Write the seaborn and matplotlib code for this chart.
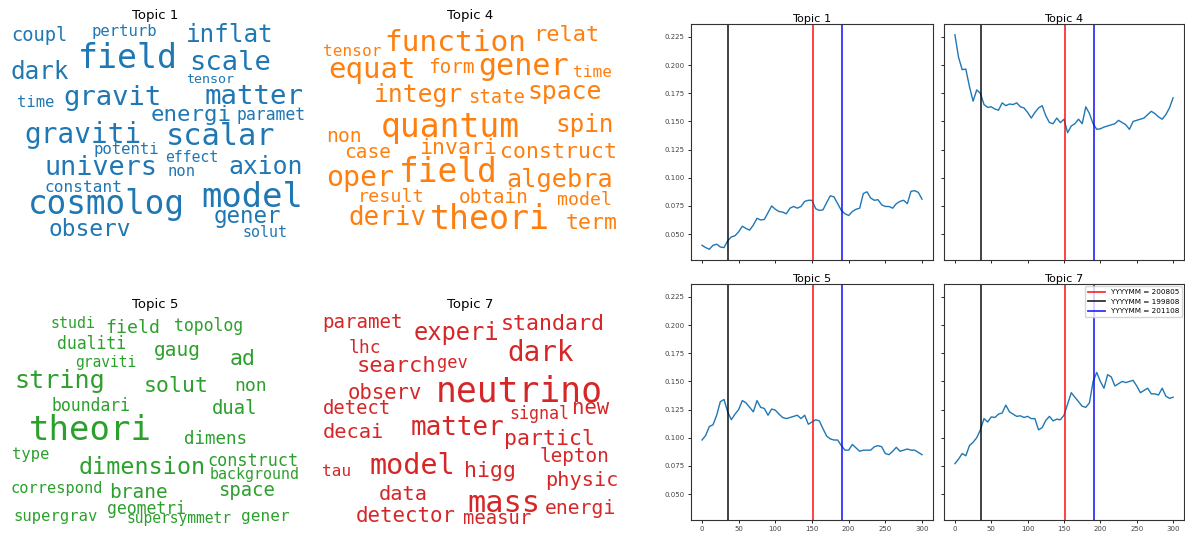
import pandas as pd
import seaborn as sns
import matplotlib.pyplot as plt

# ---- topic share over time (month index, every 5th month) ----
months = list(range(0, 301, 5))

topic1_share = [0.040, 0.038, 0.0365, 0.040, 0.041, 0.0385, 0.038, 0.044, 0.0475, 0.0485,
                0.052, 0.057, 0.055, 0.0535, 0.058, 0.064, 0.0625, 0.063, 0.069, 0.075,
                0.072, 0.070, 0.0695, 0.068, 0.073, 0.0745, 0.073, 0.0745, 0.079, 0.080,
                0.080, 0.0725, 0.071, 0.0715, 0.078, 0.084, 0.083, 0.077, 0.071, 0.068,
                0.0665, 0.070, 0.072, 0.073, 0.086, 0.0875, 0.082, 0.080, 0.0805, 0.076,
                0.0745, 0.0745, 0.073, 0.077, 0.079, 0.080, 0.077, 0.088, 0.0885, 0.087,
                0.081]

topic4_share = [0.227, 0.207, 0.196, 0.1965, 0.181, 0.168, 0.178, 0.175, 0.165, 0.1625,
                0.163, 0.161, 0.160, 0.1665, 0.164, 0.1655, 0.165, 0.1665, 0.163, 0.162,
                0.158, 0.153, 0.158, 0.162, 0.164, 0.155, 0.149, 0.148, 0.153, 0.149,
                0.152, 0.140, 0.146, 0.148, 0.152, 0.148, 0.163, 0.157, 0.148, 0.143,
                0.1435, 0.145, 0.146, 0.147, 0.148, 0.151, 0.149, 0.147, 0.143, 0.150,
                0.151, 0.152, 0.153, 0.156, 0.159, 0.157, 0.154, 0.152, 0.156, 0.162,
                0.171]

topic5_share = [0.098, 0.102, 0.110, 0.1115, 0.120, 0.132, 0.134, 0.123, 0.116, 0.121,
                0.125, 0.133, 0.131, 0.127, 0.123, 0.133, 0.127, 0.126, 0.120, 0.1255,
                0.1245, 0.121, 0.118, 0.117, 0.118, 0.119, 0.120, 0.117, 0.120, 0.112,
                0.114, 0.116, 0.115, 0.108, 0.1015, 0.099, 0.098, 0.098, 0.093, 0.089,
                0.089, 0.094, 0.091, 0.088, 0.089, 0.089, 0.089, 0.092, 0.093, 0.092,
                0.086, 0.085, 0.088, 0.0915, 0.088, 0.089, 0.090, 0.089, 0.089, 0.087,
                0.085]

topic7_share = [0.077, 0.081, 0.086, 0.084, 0.093, 0.096, 0.100, 0.107, 0.117, 0.114,
                0.1185, 0.118, 0.121, 0.122, 0.129, 0.123, 0.121, 0.119, 0.1195, 0.118,
                0.119, 0.117, 0.117, 0.107, 0.109, 0.1155, 0.119, 0.115, 0.1165, 0.116,
                0.120, 0.130, 0.140, 0.136, 0.132, 0.128, 0.127, 0.131, 0.150, 0.158,
                0.150, 0.144, 0.156, 0.154, 0.146, 0.148, 0.150, 0.149, 0.150, 0.151,
                0.146, 0.140, 0.142, 0.144, 0.139, 0.139, 0.138, 0.144, 0.137, 0.135,
                0.136]

# reference months (index) and their labels
event_labels = ["YYYYMM = 200805", "YYYYMM = 199808", "YYYYMM = 201108"]
event_months = [152, 36, 191]
event_colors = ["red", "black", "blue"]

# ---- word clouds: words and weights ----
t1_words = ["coupl", "perturb", "inflat", "field", "dark", "scale", "tensor", "gravit",
            "matter", "time", "energi", "paramet", "graviti", "scalar", "potenti", "effect",
            "univers", "non", "axion", "constant", "cosmolog", "model", "gener", "observ", "solut"]
t1_weights = [19.3, 16.1, 24.9, 34.2, 24.9, 27.9, 13.8, 28.0, 28.2, 15.9, 23.0, 17.0, 28.5,
              31.3, 16.1, 15.2, 27.7, 16.0, 25.5, 16.6, 33.6, 34.9, 23.2, 23.5, 15.5]

t4_words = ["function", "relat", "tensor", "equat", "form", "gener", "time", "integr", "state",
            "space", "quantum", "spin", "non", "case", "invari", "construct", "oper", "field",
            "algebra", "result", "obtain", "model", "deriv", "theori", "term"]
t4_weights = [30.3, 22.7, 16.6, 29.9, 19.9, 31.0, 16.6, 25.3, 19.4, 25.5, 34.0, 24.9, 20.3,
              20.0, 22.1, 22.1, 29.0, 33.8, 26.0, 18.9, 19.9, 18.8, 26.6, 34.2, 22.1]

t5_words = ["studi", "field", "topolog", "dualiti", "gaug", "ad", "graviti", "string", "solut",
            "non", "boundari", "dual", "theori", "dimens", "type", "dimension", "construct",
            "background", "correspond", "brane", "space", "supergrav", "geometri",
            "supersymmetr", "gener"]
t5_weights = [15.5, 18.8, 17.0, 17.0, 20.0, 22.1, 15.0, 25.8, 22.1, 18.5, 17.0, 19.4, 35.0,
              18.0, 15.9, 24.0, 17.2, 15.5, 15.8, 20.0, 19.4, 16.0, 17.0, 15.0, 16.6]

t7_words = ["paramet", "experi", "standard", "lhc", "dark", "search", "gev", "neutrino",
            "observ", "detect", "signal", "new", "matter", "decai", "particl", "lepton", "tau",
            "model", "higg", "physic", "data", "mass", "energi", "detector", "measur"]
t7_weights = [19.7, 24.4, 22.2, 18.5, 28.4, 22.6, 17.6, 35.6, 21.2, 19.4, 17.1, 21.2, 26.8,
              21.0, 22.1, 19.9, 16.6, 29.3, 22.1, 20.8, 20.8, 31.1, 20.3, 21.4, 19.4]

# word placement inside each cloud (pixels from the cloud's top-left corner)
t1_layout = [(39, 14), (124, 10), (230, 13), (128, 37), (40, 50), (230, 41), (210, 58),
             (112, 76), (254, 75), (36, 81), (191, 93), (271, 93), (83, 113), (221, 115),
             (126, 128), (192, 136), (101, 146), (182, 150), (266, 145), (83, 166),
             (106, 183), (252, 176), (247, 195), (90, 208), (265, 211)]
t4_layout = [(140, 21), (251, 13), (37, 30), (57, 48), (136, 46), (209, 45), (277, 51),
             (103, 73), (181, 76), (250, 70), (135, 106), (270, 103), (29, 115), (53, 131),
             (143, 126), (243, 130), (45, 156), (133, 151), (245, 158), (76, 175), (179, 176),
             (270, 178), (73, 196), (175, 198), (277, 201)]
t5_layout = [(73, 13), (133, 17), (209, 15), (92, 33), (177, 40), (243, 48), (106, 52),
             (60, 70), (176, 75), (251, 75), (91, 95), (235, 98), (90, 120), (215, 128),
             (31, 143), (142, 157), (253, 150), (255, 163), (57, 178), (138, 182), (246, 180),
             (56, 205), (146, 198), (179, 208), (265, 205)]
t7_layout = [(48, 12), (141, 22), (238, 13), (50, 37), (226, 42), (81, 55), (137, 52),
             (204, 80), (70, 82), (42, 98), (224, 103), (276, 97), (143, 117), (38, 122),
             (235, 128), (259, 145), (22, 160), (97, 155), (175, 160), (267, 170), (88, 183),
             (189, 192), (265, 197), (91, 205), (182, 207)]

W, H = 1185, 533
fig = plt.figure(figsize=(W / 100, H / 100), dpi=100)


def px_axes(x0, y0, w, h, **kw):
    # add axes from a pixel box measured from the top-left corner
    return fig.add_axes([x0 / W, 1 - (y0 + h) / H, w / W, h / H], **kw)


def draw_cloud(ax, words, weights, layout, color, title):
    ax.set_xlim(0, 310)
    ax.set_ylim(220, 0)
    ax.axis("off")
    for word, weight, (x, y) in zip(words, weights, layout):
        ax.text(x, y, word, fontsize=weight * 0.70, color=color, ha="center",
                va="center", family="DejaVu Sans Mono")
    ax.set_title(title, fontsize=9.5, pad=0)


draw_cloud(px_axes(0, 22, 310, 220), t1_words, t1_weights, t1_layout, "#1f77b4", "Topic 1")
draw_cloud(px_axes(315, 22, 310, 220), t4_words, t4_weights, t4_layout, "#ff7f0e", "Topic 4")
draw_cloud(px_axes(0, 311, 310, 220), t5_words, t5_weights, t5_layout, "#2ca02c", "Topic 5")
draw_cloud(px_axes(315, 311, 310, 220), t7_words, t7_weights, t7_layout, "#d62728", "Topic 7")

# ---- topic share line charts ----
df = pd.DataFrame({"month": months, "Topic 1": topic1_share, "Topic 4": topic4_share,
                   "Topic 5": topic5_share, "Topic 7": topic7_share})

ax1 = px_axes(691, 24, 242, 236)
ax4 = px_axes(944, 24, 240, 236, sharex=ax1, sharey=ax1)
ax5 = px_axes(691, 284, 242, 236, sharex=ax1, sharey=ax1)
ax7 = px_axes(944, 284, 240, 236, sharex=ax1, sharey=ax1)

for ax, topic in zip([ax1, ax4, ax5, ax7], ["Topic 1", "Topic 4", "Topic 5", "Topic 7"]):
    sns.lineplot(data=df, x="month", y=topic, ax=ax, color="#1f77b4", linewidth=1)
    for lab, m, c in zip(event_labels, event_months, event_colors):
        ax.axvline(m, color=c, linewidth=1.3, alpha=0.8, label=lab)
    ax.set_title(topic, fontsize=8.1, pad=1)
    ax.set_xlabel("")
    ax.set_ylabel("")
    ax.tick_params(labelsize=5, length=2.5, width=0.6, pad=2, labelcolor="#444444")
    for s in ax.spines.values():
        s.set_linewidth(0.8)
        s.set_color("#333333")

ax1.tick_params(labelbottom=False)
ax4.tick_params(labelbottom=False, labelleft=False)
ax7.tick_params(labelleft=False)

ax7.legend(loc="upper right", fontsize=5.2, borderaxespad=0.3, handlelength=2.3)

fig.savefig("out.png", dpi=100)
